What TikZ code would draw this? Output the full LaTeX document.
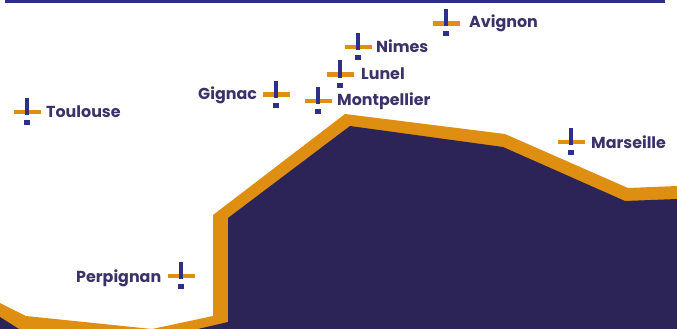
\documentclass[tikz,border=0pt]{standalone}
\usepackage{fontspec}
\setmainfont{Poppins}
\definecolor{navy}{HTML}{2C2456}
\definecolor{barblue}{HTML}{2E3088}
\definecolor{amber}{HTML}{DE8F12}
\definecolor{txt}{HTML}{3A3268}
\tikzset{
  x=1pt,y=-1pt,
  citylabel/.style={inner sep=0pt,text=txt,font=\fontsize{15.9}{18}\selectfont\bfseries,anchor=base west},
  citymark/.pic={
    \fill[amber] (-13.5,-2.2) rectangle (13.5,2.2);
    \fill[barblue] (-2.4,-14) rectangle (2.4,3);
    \fill[barblue] (-2.8,8) rectangle (2.8,13);
  }
}
\begin{document}
\begin{tikzpicture}
\useasboundingbox (0,0) rectangle (677,329);
\fill[barblue] (5,0) rectangle (665,3);
\fill[amber] (0,303) -- (26,316) -- (152,329) -- (213,316) -- (213,215) -- (345,114) -- (505,134) -- (628,188) -- (677,186) -- (677,329) -- (0,329) -- cycle;
\fill[navy] (0,317) -- (19,329) -- (0,329) -- cycle;
\fill[navy] (198,329) -- (228,322) -- (228,218) -- (350,126) -- (503,147) -- (625,201) -- (677,199) -- (677,329) -- cycle;
\pic at (27,112) {citymark};
\pic at (276,94.5) {citymark};
\pic at (318,101) {citymark};
\pic at (358,47) {citymark};
\pic at (340,74.5) {citymark};
\pic at (446,23.5) {citymark};
\pic at (571,142) {citymark};
\pic at (181,276) {citymark};
\node[citylabel] (toulouse) at (46,117.5) {Toulouse};
\node[citylabel] (gignac) at (198,99.5) {Gignac};
\node[citylabel] (montpellier) at (337,105.5) {Montpellier};
\node[citylabel] (nimes) at (376,52.5) {Nimes};
\node[citylabel] (lunel) at (361,79.5) {Lunel};
\node[citylabel] (avignon) at (469,27.5) {Avignon};
\node[citylabel] (marseille) at (591,148) {Marseille};
\node[citylabel] (perpignan) at (76,282) {Perpignan};
\end{tikzpicture}
\end{document}
